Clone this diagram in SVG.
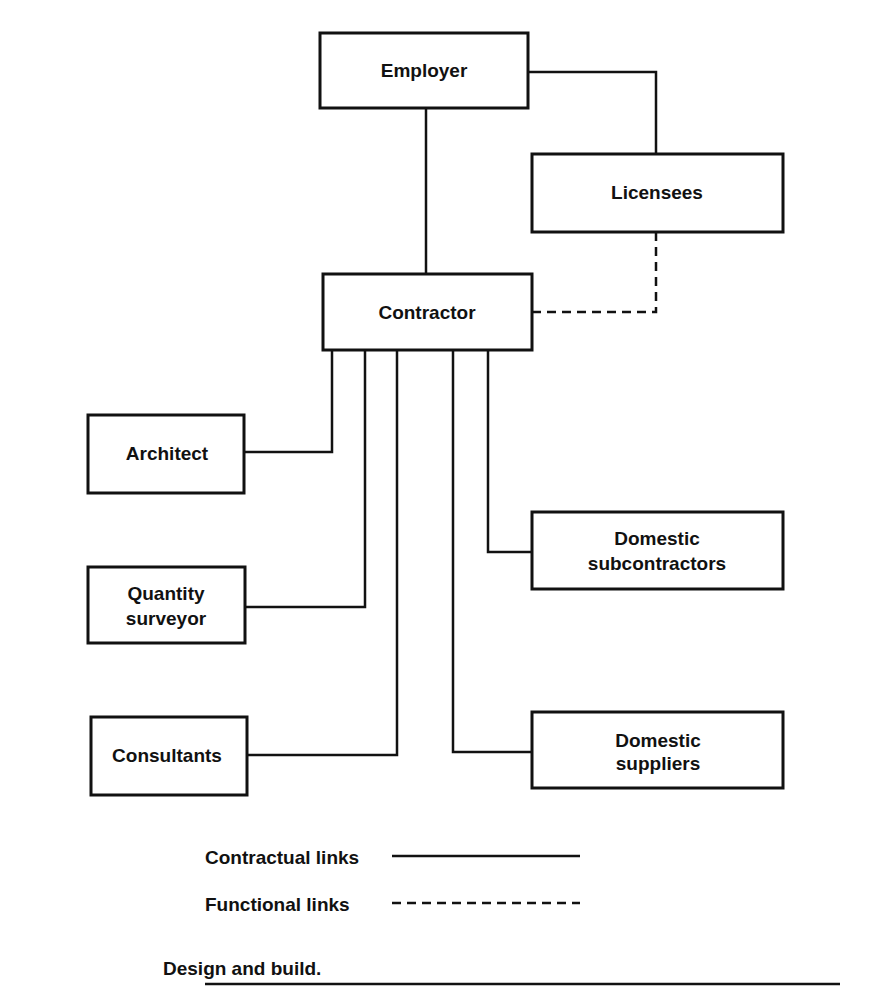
<svg xmlns="http://www.w3.org/2000/svg" width="869" height="989" viewBox="0 0 869 989">
<style>
.box{fill:#fff;stroke:#111;stroke-width:3}
.t{font-family:"Liberation Sans",Arial,sans-serif;font-weight:bold;font-size:19px;fill:#111;text-anchor:middle}
.l{font-family:"Liberation Sans",Arial,sans-serif;font-weight:bold;font-size:19px;fill:#111}
.c{fill:none;stroke:#111;stroke-width:2.5}
.d{fill:none;stroke:#111;stroke-width:2.5;stroke-dasharray:9 6}
</style>
<rect width="869" height="989" fill="#fff"/>
<g id="connectors">
<polyline class="c" points="528,72 656,72 656,154"/>
<line class="c" x1="426" y1="108" x2="426" y2="274"/>
<polyline class="d" points="656,232 656,312 532,312"/>
<polyline class="c" points="332,350 332,452 244,452"/>
<polyline class="c" points="365,350 365,607 245,607"/>
<polyline class="c" points="397,350 397,755 247,755"/>
<polyline class="c" points="453,350 453,752 532,752"/>
<polyline class="c" points="488,350 488,552 532,552"/>
</g>
<g id="employer"><rect class="box" x="320" y="33" width="208" height="75"/><text class="t" x="424" y="77">Employer</text></g>
<g id="licensees"><rect class="box" x="532" y="154" width="251" height="78"/><text class="t" x="657" y="199">Licensees</text></g>
<g id="contractor"><rect class="box" x="323" y="274" width="209" height="76"/><text class="t" x="427" y="319">Contractor</text></g>
<g id="architect"><rect class="box" x="88" y="415" width="156" height="78"/><text class="t" x="167" y="460">Architect</text></g>
<g id="quantity-surveyor"><rect class="box" x="88" y="567" width="157" height="76"/><text class="t" x="166" y="600">Quantity</text><text class="t" x="166" y="625">surveyor</text></g>
<g id="consultants"><rect class="box" x="91" y="717" width="156" height="78"/><text class="t" x="167" y="762">Consultants</text></g>
<g id="domestic-subcontractors"><rect class="box" x="532" y="512" width="251" height="77"/><text class="t" x="657" y="545">Domestic</text><text class="t" x="657" y="570">subcontractors</text></g>
<g id="domestic-suppliers"><rect class="box" x="532" y="712" width="251" height="76"/><text class="t" x="658" y="747">Domestic</text><text class="t" x="658" y="770">suppliers</text></g>
<g id="legend">
<text class="l" x="205" y="864">Contractual links</text>
<line class="c" x1="392" y1="856" x2="580" y2="856"/>
<text class="l" x="205" y="911">Functional links</text>
<line class="d" x1="392" y1="903" x2="580" y2="903"/>
<text class="l" x="163" y="975">Design and build.</text>
<line class="c" x1="205" y1="984" x2="840" y2="984"/>
</g>
</svg>
